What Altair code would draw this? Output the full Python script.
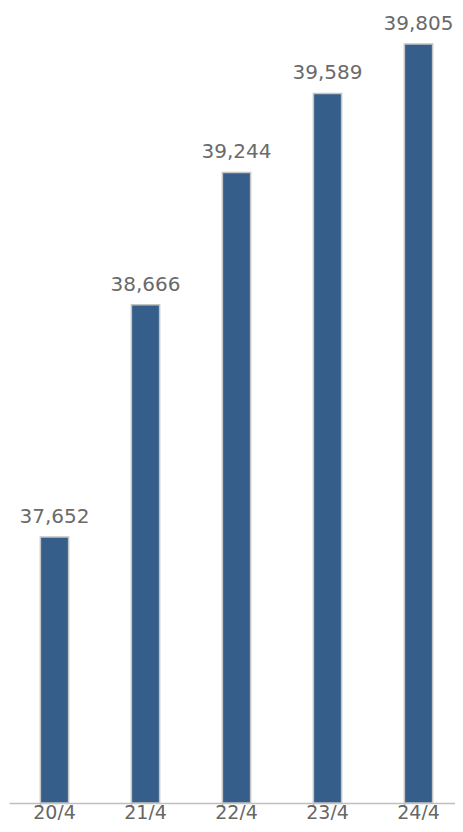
import altair as alt
import pandas as pd

categories = ["20/4", "21/4", "22/4", "23/4", "24/4"]
values = [37652, 38666, 39244, 39589, 39805]
labels = ["37,652", "38,666", "39,244", "39,589", "39,805"]
title_text = "全国保育所等数"

df = pd.DataFrame({"cat": categories, "val": values, "lab": labels})

x = alt.X("cat:N", sort=categories, title=None,
          scale=alt.Scale(paddingInner=0.69, paddingOuter=0.345, range=[0, 455]),
          axis=alt.Axis(labelAngle=0, bandPosition=0,
                        domainColor="#bfbfbf", domainWidth=1.5,
                        tickColor="#bfbfbf", tickWidth=1.5, tickSize=4,
                        labelColor="#666666", labelFontSize=19, labelFont="DejaVu Sans",
                        labelBaseline="alphabetic", labelPadding=11))
y = alt.Y("val:Q", title=None,
          scale=alt.Scale(domain=[36490, 39962], nice=False, zero=False, clamp=True),
          axis=None)

bars = alt.Chart(df).mark_bar(color="#365e8b", stroke="#c4c4c4", strokeWidth=1.5).encode(x=x, y=y)
text = alt.Chart(df).mark_text(baseline="alphabetic", dy=-14, fontSize=20, font="DejaVu Sans",
                               color="#6a6a6a").encode(x=x, y=y, text="lab:N")
title = alt.Chart(pd.DataFrame({"t": [title_text]})).mark_text(
    align="left", baseline="alphabetic", fontSize=29, font="Noto Sans CJK JP",
    fontWeight="bold", color="#595959").encode(
    x=alt.value(-12), y=alt.value(-5), text="t:N")

chart = alt.layer(bars, text, title).properties(
    width=446, height=795,
    autosize=alt.AutoSizeParams(type="none"),
    padding={"left": 1, "top": 0, "right": 0, "bottom": 17},
).configure_view(stroke=None)

chart.save("out.html", embed_options={"renderer": "svg", "actions": False})
